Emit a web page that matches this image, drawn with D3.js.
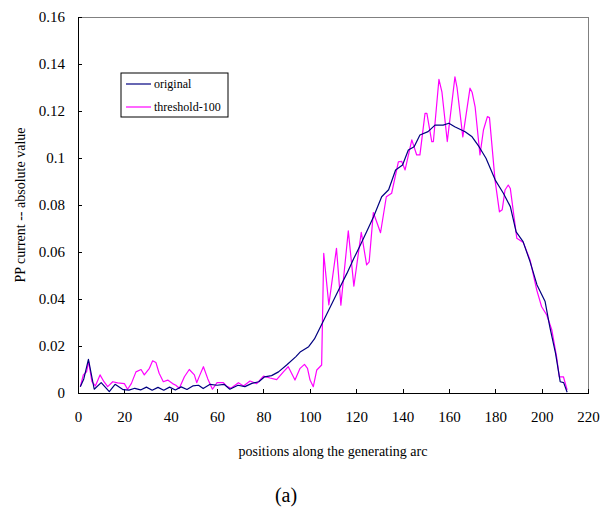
<!DOCTYPE html>
<html lang="en">
<head>
    <meta charset="UTF-8">
    <title>PP current</title>
    <script src="https://d3js.org/d3.v7.min.js"></script>
    <style>
    body{
        margin: 0;
        background: #fff;
    }
    .axis path,
    .axis line{
        fill: none;
        stroke: #000;
        shape-rendering: crispEdges;
    }
    </style>
</head>
<body>
    <script>
    var width = 613;
    var height = 510;
    var margin = {left: 78, right: 25, top: 17, bottom: 117};
    var serif = "'Liberation Serif', 'Times New Roman', Times, 'DejaVu Serif', serif";

    // data
    var xTicks = [0, 20, 40, 60, 80, 100, 120, 140, 160, 180, 200, 220];
    var yTicks = [0, 0.02, 0.04, 0.06, 0.08, 0.1, 0.12, 0.14, 0.16];
    var seriesNames = ["original", "threshold-100"];

    var origX = [1, 2.5, 4.5, 7, 10, 13.5, 16, 19.5, 22, 24.5, 27, 29.5, 32, 34.5, 37, 39.5, 42, 44.5, 47, 49.5,
        52, 54, 57, 60, 63, 65.5, 69, 72, 75, 78, 80.5, 83.5, 86.5, 90, 94, 96, 99.5, 102, 106, 109.5,
        113, 116, 119, 121.5, 124.5, 127.5, 131, 134, 137, 140, 142.5, 145, 147.5, 151, 154, 157.5, 160, 162.5, 167, 170,
        173, 176, 180, 183.5, 186.5, 189, 192, 195, 198, 201.5, 203.5, 206, 208, 209.5, 211];
    var origY = [0.0027, 0.006, 0.0143, 0.0016, 0.0044, 0.0006, 0.0037, 0.0014, 0.0012, 0.002, 0.0013, 0.0025, 0.0012, 0.0024, 0.0012, 0.0025, 0.0013, 0.0026, 0.0015, 0.003,
        0.0033, 0.0019, 0.0037, 0.0033, 0.0037, 0.0016, 0.0033, 0.0027, 0.0041, 0.0048, 0.0069, 0.0074, 0.009, 0.0119, 0.0155, 0.0176, 0.0197, 0.023, 0.031, 0.038,
        0.045, 0.0509, 0.0573, 0.0623, 0.0686, 0.075, 0.0835, 0.0865, 0.0949, 0.097, 0.1034, 0.1048, 0.1098, 0.1112, 0.114, 0.114, 0.1148, 0.1133, 0.1112, 0.109,
        0.1048, 0.0999, 0.0906, 0.085, 0.0793, 0.0686, 0.0644, 0.0559, 0.046, 0.0389, 0.0282, 0.0169, 0.0048, 0.0044, 0.0003];

    var threshX = [1, 2.3, 3.7, 4.6, 6, 7.5, 9.5, 11.2, 12.8, 15, 17.1, 20, 21.4, 23, 25, 27.2, 28.6, 30.8, 32.2, 33.6,
        35, 36.8, 38.7, 40.8, 42.2, 43.7, 45.9, 48, 50.2, 51.2, 52.5, 54.1, 56, 58, 60, 62.7, 64, 66, 69.2, 71.4,
        74.2, 77.1, 80, 82.8, 85.7, 88.6, 90.7, 93.6, 95.8, 97.7, 99, 100.1, 101.5, 103, 105.1, 106, 108.2, 111.5, 113.4, 116.6,
        119, 122.2, 124.5, 125.6, 127.4, 130.5, 133, 135.3, 138.2, 139.6, 141.1, 144, 146.1, 147.5, 149.7, 150.5, 152.6, 153.3, 155.7, 157,
        159.3, 162.6, 163.5, 166, 169.1, 170, 171.3, 173.4, 174.9, 176.6, 177.5, 179.9, 181.8, 183, 184.2, 185.6, 186.5, 189.3, 192.1, 195,
        197.9, 200, 202.2, 204.4, 206.5, 207.6, 209.4, 211];
    var threshY = [0.0027, 0.0077, 0.009, 0.0133, 0.0048, 0.003, 0.0077, 0.0048, 0.0027, 0.0048, 0.0043, 0.004, 0.0016, 0.004, 0.009, 0.01, 0.0077, 0.0105, 0.0137, 0.013,
        0.0084, 0.0048, 0.0055, 0.004, 0.0033, 0.002, 0.0069, 0.01, 0.0077, 0.0044, 0.0075, 0.0112, 0.006, 0.0016, 0.0044, 0.0044, 0.003, 0.002, 0.0044, 0.003,
        0.0051, 0.004, 0.0072, 0.0064, 0.0057, 0.009, 0.0112, 0.0055, 0.0105, 0.0122, 0.0105, 0.0055, 0.0027, 0.0098, 0.0119, 0.0594, 0.0375, 0.0616, 0.0374, 0.069,
        0.0455, 0.0684, 0.0545, 0.0558, 0.0768, 0.0682, 0.0835, 0.085, 0.0984, 0.0986, 0.0949, 0.1077, 0.1013, 0.1013, 0.119, 0.119, 0.107, 0.107, 0.1335, 0.128,
        0.107, 0.1345, 0.13, 0.109, 0.1297, 0.128, 0.1218, 0.1013, 0.1119, 0.1176, 0.1172, 0.0906, 0.0771, 0.078, 0.0864, 0.0885, 0.087, 0.0658, 0.064, 0.0566,
        0.0438, 0.0367, 0.0332, 0.0268, 0.0152, 0.0069, 0.0069, 0.0013];

    var colors = ["#000080", "#ff00ff"];

    // canvas
    var svg = d3.select("body")
        .append("svg")
        .attr("width", width)
        .attr("height", height)
        .attr("font-family", serif);

    var x = d3.scaleLinear()
        .domain([0, 220])
        .range([margin.left, width - margin.right]);

    var y = d3.scaleLinear()
        .domain([0, 0.16])
        .range([height - margin.bottom, margin.top]);

    // frame top + right (gray)
    svg.append("rect")
        .attr("x", x(0))
        .attr("y", y(0.16))
        .attr("width", x(220) - x(0))
        .attr("height", y(0) - y(0.16))
        .attr("fill", "none")
        .attr("stroke", "#808080")
        .attr("shape-rendering", "crispEdges");

    // axes, ticks inside
    var xAxis = d3.axisBottom(x)
        .tickValues(xTicks)
        .tickSizeInner(-4)
        .tickSizeOuter(0)
        .tickPadding(18)
        .tickFormat(d3.format("d"));

    var yAxis = d3.axisLeft(y)
        .tickValues(yTicks)
        .tickSizeInner(-4)
        .tickSizeOuter(0)
        .tickPadding(13)
        .tickFormat(function(d) { return d === 0 ? "0" : String(+d.toFixed(2)); });

    var gx = svg.append("g")
        .attr("class", "axis")
        .attr("transform", "translate(0," + y(0) + ")")
        .call(xAxis)
        .attr("font-family", serif)
        .attr("font-size", 15);
    gx.select(".domain").attr("stroke-width", 1.5);

    var gy = svg.append("g")
        .attr("class", "axis")
        .attr("transform", "translate(" + x(0) + ",0)")
        .call(yAxis)
        .attr("font-family", serif)
        .attr("font-size", 15);
    gy.select(".domain").attr("stroke-width", 1.5);

    // lines
    var line = d3.line()
        .x(function(d) { return x(d[0]); })
        .y(function(d) { return y(d[1]); });

    var series = [
        d3.zip(origX, origY),
        d3.zip(threshX, threshY)
    ];

    [1, 0].forEach(function(i) {
        svg.append("path")
            .datum(series[i])
            .attr("fill", "none")
            .attr("stroke", colors[i])
            .attr("stroke-width", 1.2)
            .attr("stroke-linejoin", "round")
            .attr("d", line);
    });

    // legend
    var legend = svg.append("g").attr("transform", "translate(121,73)");
    legend.append("rect")
        .attr("width", 107)
        .attr("height", 44)
        .attr("fill", "#fff")
        .attr("stroke", "#000")
        .attr("stroke-width", 1);
    seriesNames.forEach(function(name, i) {
        var ly = 11 + i * 23;
        legend.append("line")
            .attr("x1", 5).attr("x2", 30)
            .attr("y1", ly).attr("y2", ly)
            .attr("stroke", colors[i])
            .attr("stroke-width", 1.2);
        legend.append("text")
            .attr("x", 33)
            .attr("y", ly + 4)
            .attr("font-size", 12)
            .text(name);
    });

    // titles
    svg.append("text")
        .attr("x", 333)
        .attr("y", 456)
        .attr("text-anchor", "middle")
        .attr("font-size", 14)
        .text("positions along the generating arc");

    svg.append("text")
        .attr("transform", "translate(25,205) rotate(-90)")
        .attr("text-anchor", "middle")
        .attr("font-size", 14)
        .text("PP current -- absolute value");

    svg.append("text")
        .attr("x", 286)
        .attr("y", 502)
        .attr("text-anchor", "middle")
        .attr("font-size", 20)
        .text("(a)");
    </script>
</body>
</html>
